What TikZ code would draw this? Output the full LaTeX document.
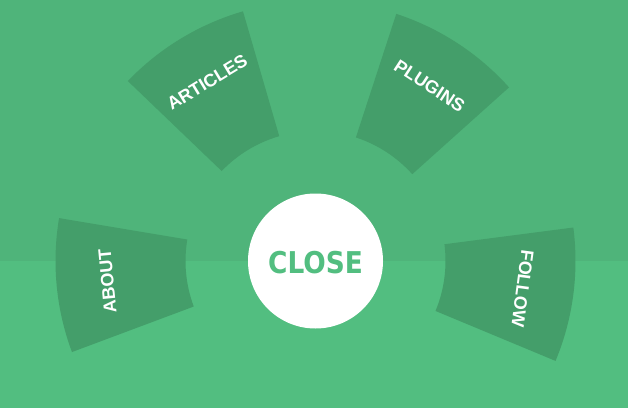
\documentclass[tikz,border=0pt]{standalone}
\usepackage{fontspec}
\setmainfont{Liberation Sans}
\newfontfamily\closefont{DejaVu Sans}
\usetikzlibrary{calc}
\definecolor{bgtop}{HTML}{4FB47A}
\definecolor{bgbot}{HTML}{52BE80}
\definecolor{segc}{HTML}{449E6A}
\tikzset{
  seg/.style={fill=segc},
  lbl/.style={text=white, font=\fontsize{18}{19}\selectfont\bfseries, inner sep=0pt},
  closebtn/.style={circle, fill=white, minimum size=135pt, inner sep=0pt, text=bgbot,
    font=\closefont\fontsize{30}{32}\selectfont\bfseries}
}
\begin{document}
\begin{tikzpicture}[x=1pt,y=1pt]
\useasboundingbox (0,0) rectangle (628,408);
\fill[bgbot] (0,0) rectangle (628,147);
\fill[bgtop] (0,147) rectangle (628,408);
\coordinate (c) at (315.5,147);
% sectors
\foreach \a in {185.5,121.2,56.9,-7.6}{
  \fill[seg,shift={(c)}] (\a-15:130) arc[start angle=\a-15, end angle=\a+15, radius=130]
    -- (\a+15:260) arc[start angle=\a+15, end angle=\a-15, radius=260] -- cycle;
}
\node[lbl, rotate=95.5] (about) at ($(c)+(185.5:209)$) {ABOUT};
\node[lbl, rotate=31.2] (articles) at ($(c)+(121.2:209)$) {ARTICLES};
\node[lbl, rotate=-33.1] (plugins) at ($(c)+(56.9:209)$) {PLUGINS};
\node[lbl, rotate=-97.6] (follow) at ($(c)+(-7.6:209)$) {FOLLOW};
\node[closebtn] (close) at (c) {};
\node[text=bgbot, font=\closefont\fontsize{30}{32}\selectfont\bfseries, inner sep=0pt]
  (closetxt) at ($(c)+(0,-1.5)$) {\scalebox{0.88}[1]{CLOSE}};
\end{tikzpicture}
\end{document}
